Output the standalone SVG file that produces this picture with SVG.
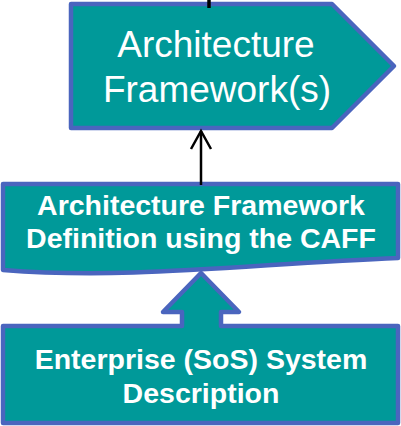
<svg xmlns="http://www.w3.org/2000/svg" width="401" height="426" viewBox="0 0 401 426">
<defs>
<style>
.shape{fill:#009999;stroke:#4A65BE;stroke-width:4.5;stroke-linejoin:round}
.t{fill:#ffffff;font-family:"Liberation Sans",Arial,sans-serif;text-anchor:middle}
.b{font-weight:bold;font-size:28.5px}
.r{font-size:37px}
.conn{stroke:#000;fill:none;stroke-width:2.5}
</style>
<marker id="open" viewBox="0 0 24 24" refX="20" refY="12" markerWidth="24" markerHeight="24" markerUnits="userSpaceOnUse" orient="auto" overflow="visible">
<path d="M2,2 L20,12 L2,22" fill="none" stroke="#000" stroke-width="2.5"/>
</marker>
</defs>
<g id="framework">
<path class="shape" d="M71,4 L332,4 L394,66 L332,128 L71,128 Z"/>
<text class="t r" x="216" y="57">Architecture</text>
<text class="t r" x="217" y="102">Framework(s)</text>
</g>
<g id="caff">
<path class="shape" d="M3,184 L398,184 L398,258 C250,264 130,280 3,270 Z"/>
<text class="t b" x="201" y="215">Architecture Framework</text>
<text class="t b" x="201" y="248">Definition using the CAFF</text>
</g>
<g id="enterprise">
<path class="shape" d="M3,326 L182,326 L182,312 L163,312 L201,273 L239,312 L221,312 L221,326 L398,326 L398,423 L3,423 Z"/>
<text class="t b" x="201" y="369">Enterprise (SoS) System</text>
<text class="t b" x="201" y="403">Description</text>
</g>
<g id="connectors">
<line class="conn" x1="209" y1="0" x2="209" y2="8" style="stroke-width:3.5"/>
<line class="conn" x1="201" y1="185" x2="201" y2="131" marker-end="url(#open)"/>
</g>
</svg>
